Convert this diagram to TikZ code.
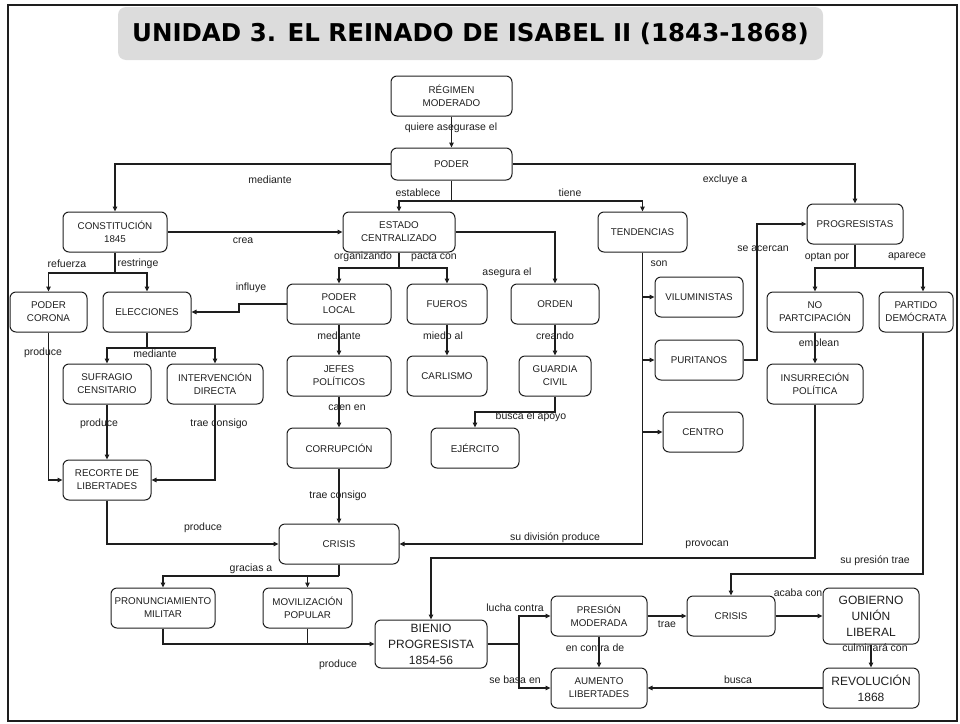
\documentclass[tikz,border=0pt]{standalone}
\usepackage{fontspec}
\setmainfont{Liberation Sans}
\newfontfamily\titlefont{DejaVu Sans}
\usetikzlibrary{arrows.meta}
\definecolor{ink}{HTML}{1E1E1E}
\definecolor{titlegray}{HTML}{DCDCDC}
\tikzset{
  box/.style={draw=ink, line width=1pt, rounded corners=6pt, align=center, inner sep=1pt,
    font=\fontsize{9.8}{13}\selectfont, text=ink, minimum height=40pt},
  bigbox/.style={box, font=\fontsize{12}{16}\selectfont},
  conn/.style={draw=ink, line width=1.3pt},
  arr/.style={conn, -{Triangle[length=5pt,width=4.5pt]}},
  lbl/.style={font=\fontsize{10.5}{12}\selectfont, text=ink, inner sep=0pt},
}
\begin{document}
\begin{tikzpicture}[x=1pt,y=-1pt]
\useasboundingbox (0,0) rectangle (960,723);
\draw[line width=2pt, draw=ink] (8,5) rectangle (957,721);
\node[fill=titlegray, rounded corners=8pt, minimum width=705pt, minimum height=53pt, inner sep=0pt,
  font=\titlefont\bfseries\fontsize{24.5}{28}\selectfont, text=black] (title) at (470.5,33.5)
  {UNIDAD 3. EL REINADO DE ISABEL II (1843-1868)};

% nodes
\node[box, minimum width=121pt] (reg) at (451.5,96) {RÉGIMEN\\MODERADO};
\node[box, minimum width=121pt, minimum height=32pt] (poder) at (451.5,164) {PODER};
\node[box, minimum width=104pt] (const) at (115,232) {CONSTITUCIÓN\\1845};
\node[box, minimum width=112pt] (estado) at (399,232) {ESTADO\\CENTRALIZADO};
\node[box, minimum width=89pt] (tend) at (642.5,232) {TENDENCIAS};
\node[box, minimum width=96pt] (prog) at (855,224) {PROGRESISTAS};
\node[box, minimum width=77pt] (corona) at (48.5,312) {PODER\\CORONA};
\node[box, minimum width=88pt] (elec) at (147,312) {ELECCIONES};
\node[box, minimum width=104pt] (plocal) at (339,304) {PODER\\LOCAL};
\node[box, minimum width=80pt] (fueros) at (447,304) {FUEROS};
\node[box, minimum width=88pt] (orden) at (555,304) {ORDEN};
\node[box, minimum width=88pt] (vilu) at (699,297) {VILUMINISTAS};
\node[box, minimum width=88pt] (purit) at (699,360) {PURITANOS};
\node[box, minimum width=80pt] (centro) at (703,432) {CENTRO};
\node[box, minimum width=96pt] (nopart) at (815,312) {NO\\PARTCIPACIÓN};
\node[box, minimum width=74pt] (pdem) at (916,312) {PARTIDO\\DEMÓCRATA};
\node[box, minimum width=88pt] (sufr) at (107,384) {SUFRAGIO\\CENSITARIO};
\node[box, minimum width=96pt] (interv) at (215,384) {INTERVENCIÓN\\DIRECTA};
\node[box, minimum width=96pt] (insurr) at (815,384) {INSURRECIÓN\\POLÍTICA};
\node[box, minimum width=104pt] (jefes) at (339,376) {JEFES\\POLÍTICOS};
\node[box, minimum width=80pt] (carl) at (447,376) {CARLISMO};
\node[box, minimum width=72pt] (guardia) at (555,376) {GUARDIA\\CIVIL};
\node[box, minimum width=88pt] (recorte) at (107,480) {RECORTE DE\\LIBERTADES};
\node[box, minimum width=104pt] (corrup) at (339,448) {CORRUPCIÓN};
\node[box, minimum width=88pt] (ejerc) at (475,448) {EJÉRCITO};
\node[box, minimum width=120pt] (crisis) at (339,544) {CRISIS};
\node[box, minimum width=104pt] (pron) at (163,608) {PRONUNCIAMIENTO\\MILITAR};
\node[box, minimum width=89pt] (movil) at (307.5,608) {MOVILIZACIÓN\\POPULAR};
\node[bigbox, minimum width=112pt, minimum height=48pt] (bienio) at (431,644) {BIENIO\\PROGRESISTA\\1854-56};
\node[box, minimum width=96pt] (presion) at (599,616) {PRESIÓN\\MODERADA};
\node[box, minimum width=96pt] (aumento) at (599,688) {AUMENTO\\LIBERTADES};
\node[box, minimum width=88pt] (crisis2) at (731,616) {CRISIS};
\node[bigbox, minimum width=96pt, minimum height=56pt] (gob) at (871,616) {GOBIERNO\\UNIÓN\\LIBERAL};
\node[bigbox, minimum width=96pt] (revol) at (871,688) {REVOLUCIÓN\\1868};

% junction coordinates
\coordinate (jpoder) at (451.5,201);
\coordinate (jconst) at (115,273);
\coordinate (jestado) at (399,268);
\coordinate (jprog) at (855,268);
\coordinate (jelec) at (147,348);
\coordinate (jinfl) at (239,304);
\coordinate (jpur) at (757,360);
\coordinate (jguard) at (555,412);
\coordinate (jcrisis) at (339,576);
\coordinate (jprod) at (307.5,644);
\coordinate (jbien) at (519,644);
\coordinate (jinsur) at (815,558);
\coordinate (jpdem) at (923,574);

% connectors
\draw[arr] (reg) -- (poder);
\draw[arr] (poder.west) -| (const.north);
\draw[arr] (poder.east) -| (prog.north);
\draw[conn] (poder.south) -- (jpoder);
\draw[arr] (jpoder) -| (estado.north);
\draw[arr] (jpoder) -| (tend.north);
\draw[arr] (const.east) -- (estado.west);
\draw[conn] (const.south) -- (jconst);
\draw[arr] (jconst) -| (corona.north);
\draw[arr] (jconst) -| (elec.north);
\draw[arr] (plocal.west) -- (jinfl) |- (elec.east);
\draw[conn] (estado.south) -- (jestado);
\draw[arr] (jestado) -| (plocal.north);
\draw[arr] (jestado) -| (fueros.north);
\draw[arr] (estado.east) -| (orden.north);
\draw[arr] (tend.south) |- (vilu.west);
\draw[arr] (tend.south) |- (purit.west);
\draw[arr] (tend.south) |- (centro.west);
\draw[arr] (tend.south) |- (crisis.east);
\draw[arr] (purit.east) -- (jpur) |- (prog.west);
\draw[conn] (prog.south) -- (jprog);
\draw[arr] (jprog) -| (nopart.north);
\draw[arr] (jprog) -| ([xshift=7pt]pdem.north);
\draw[arr] (nopart) -- (insurr);
\draw[arr] (insurr.south) -- (jinsur) -| (bienio.north);
\draw[arr] ([xshift=7pt]pdem.south) -- (jpdem) -| (crisis2.north);
\draw[conn] (elec.south) -- (jelec);
\draw[arr] (jelec) -| (sufr.north);
\draw[arr] (jelec) -| (interv.north);
\draw[arr] (sufr) -- (recorte);
\draw[arr] (interv.south) |- (recorte.east);
\draw[arr] (corona.south) |- (recorte.west);
\draw[arr] (recorte.south) |- (crisis.west);
\draw[arr] (plocal) -- (jefes);
\draw[arr] (fueros) -- (carl);
\draw[arr] (orden) -- (guardia);
\draw[arr] (jefes) -- (corrup);
\draw[arr] (guardia.south) -- (jguard) -| (ejerc.north);
\draw[arr] (corrup) -- (crisis);
\draw[conn] (crisis.south) -- (jcrisis);
\draw[arr] (jcrisis) -| (pron.north);
\draw[arr] (jcrisis) -| (movil.north);
\draw[arr] (pron.south) |- (bienio.west);
\draw[conn] (movil.south) -- (jprod);
\draw[conn] (bienio.east) -- (jbien);
\draw[arr] (jbien) |- (presion.west);
\draw[arr] (jbien) |- (aumento.west);
\draw[arr] (presion) -- (aumento);
\draw[arr] (presion) -- (crisis2);
\draw[arr] (crisis2) -- (gob);
\draw[arr] (gob) -- (revol);
\draw[arr] (revol) -- (aumento);

% labels
\node[lbl] (l1) at (451,128) {quiere asegurase el};
\node[lbl] (l2) at (270,180) {mediante};
\node[lbl] (l3) at (725,180) {excluye a};
\node[lbl] (l4) at (418,193) {establece};
\node[lbl] (l5) at (570,193) {tiene};
\node[lbl] (l6) at (243,241) {crea};
\node[lbl] (l7) at (67,264) {refuerza};
\node[lbl] (l8) at (138,264) {restringe};
\node[lbl] (l9) at (363,257) {organizando};
\node[lbl] (l10) at (434,257) {pacta con};
\node[lbl] (l11) at (507,273) {asegura el};
\node[lbl] (l12) at (659,264) {son};
\node[lbl] (l13) at (763,249) {se acercan};
\node[lbl] (l14) at (827,257) {optan por};
\node[lbl] (l15) at (907,257) {aparece};
\node[lbl] (l16) at (251,288) {influye};
\node[lbl] (l17) at (43,353) {produce};
\node[lbl] (l18) at (155,354) {mediante};
\node[lbl] (l19) at (339,336) {mediante};
\node[lbl] (l20) at (443,336) {miedo al};
\node[lbl] (l21) at (555,336) {creando};
\node[lbl] (l22) at (819,344) {emplean};
\node[lbl] (l23) at (99,424) {produce};
\node[lbl] (l24) at (219,424) {trae consigo};
\node[lbl] (l25) at (347,408) {caen en};
\node[lbl] (l26) at (531,417) {busca el apoyo};
\node[lbl] (l27) at (338,496) {trae consigo};
\node[lbl] (l28) at (203,528) {produce};
\node[lbl] (l29) at (555,538) {su división produce};
\node[lbl] (l30) at (707,545) {provocan};
\node[lbl] (l31) at (875,561) {su presión trae};
\node[lbl] (l32) at (251,569) {gracias a};
\node[lbl] (l33) at (338,665) {produce};
\node[lbl] (l34) at (515,608) {lucha contra};
\node[lbl] (l35) at (515,680) {se basa en};
\node[lbl] (l36) at (595,648) {en contra de};
\node[lbl] (l37) at (667,624) {trae};
\node[lbl] (l38) at (798,593) {acaba con};
\node[lbl] (l39) at (875,648) {culminará con};
\node[lbl] (l40) at (738,680) {busca};
\end{tikzpicture}
\end{document}
